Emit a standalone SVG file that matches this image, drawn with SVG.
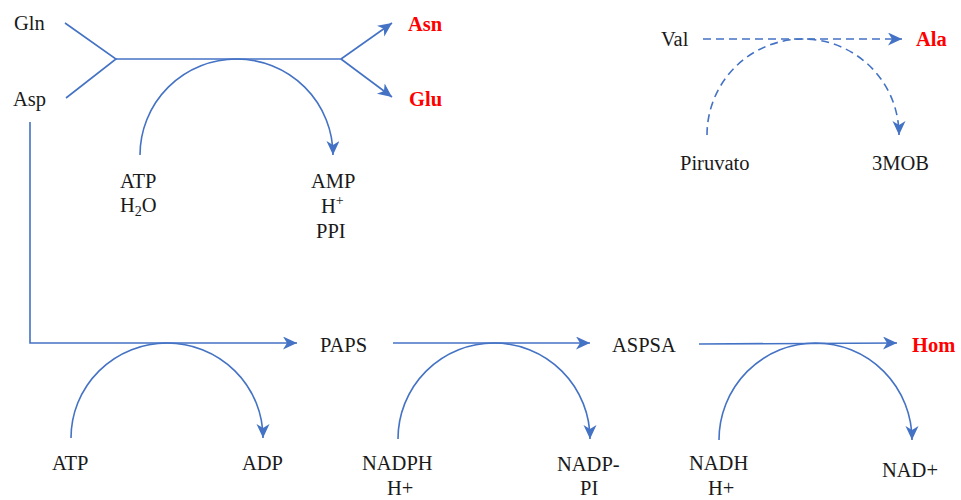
<svg xmlns="http://www.w3.org/2000/svg" width="961" height="500" viewBox="0 0 961 500">
<style>
.t{font-family:"Liberation Serif","Times New Roman",serif;font-size:20.5px;fill:#1a1a1a}
.r{font-family:"Liberation Serif","Times New Roman",serif;font-size:20.5px;font-weight:bold;fill:#ff0000}
.c{fill:none;stroke:#4472c4;stroke-width:1.6}
.d{stroke-dasharray:8 5}
</style>
<defs>
<marker id="ah" markerUnits="userSpaceOnUse" markerWidth="16" markerHeight="14" refX="14" refY="6.5" orient="auto" viewBox="0 0 16 14">
<path d="M0,0 L14,6.5 L0,13 L4,6.5 Z" fill="#4472c4"/>
</marker>
</defs>
<rect width="961" height="500" fill="#ffffff"/>
<g id="connectors">
<path class="c" d="M65,23 L116,59 L66,98"/>
<path class="c" d="M116,59 L341,59"/>
<path class="c" d="M341,59 L392,23" marker-end="url(#ah)"/>
<path class="c" d="M341,59 L392,97" marker-end="url(#ah)"/>
<path class="c" d="M140,155 A96.5,96 0 0 1 333,155" marker-end="url(#ah)"/>
<path class="c" d="M30,122 L30,343 L297,343" marker-end="url(#ah)"/>
<path class="c" d="M71,438 A96,95 0 0 1 263,438" marker-end="url(#ah)"/>
<path class="c" d="M393,343 L590,343" marker-end="url(#ah)"/>
<path class="c" d="M398,439 A96,96 0 0 1 590,439" marker-end="url(#ah)"/>
<path class="c" d="M699,344 L897,343" marker-end="url(#ah)"/>
<path class="c" d="M719,440 A96.5,97 0 0 1 912,440" marker-end="url(#ah)"/>
<path class="c d" d="M703,39 L902,39" marker-end="url(#ah)"/>
<path class="c d" d="M707,135 A96,96 0 0 1 899,135" marker-end="url(#ah)"/>
</g>
<g id="Gln"><text class="t" x="14" y="30">Gln</text></g>
<g id="Asp"><text class="t" x="13" y="106">Asp</text></g>
<g id="Asn"><text class="r" x="408" y="31">Asn</text></g>
<g id="Glu"><text class="r" x="409" y="106">Glu</text></g>
<g id="ATP-H2O"><text class="t" x="120" y="188">ATP</text><text class="t" x="120" y="212">H<tspan font-size="14" dy="4">2</tspan><tspan dy="-4">O</tspan></text></g>
<g id="AMP-H-PPI"><text class="t" x="311" y="188">AMP</text><text class="t" x="321" y="213">H<tspan font-size="14" dy="-8">+</tspan></text><text class="t" x="316" y="238">PPI</text></g>
<g id="Val"><text class="t" x="661" y="46">Val</text></g>
<g id="Ala"><text class="r" x="916" y="46">Ala</text></g>
<g id="Piruvato"><text class="t" x="680" y="170">Piruvato</text></g>
<g id="3MOB"><text class="t" x="872" y="170">3MOB</text></g>
<g id="PAPS"><text class="t" x="320" y="352">PAPS</text></g>
<g id="ASPSA"><text class="t" x="612" y="352">ASPSA</text></g>
<g id="Hom"><text class="r" x="912" y="352">Hom</text></g>
<g id="ATP2"><text class="t" x="52" y="470">ATP</text></g>
<g id="ADP"><text class="t" x="242" y="470">ADP</text></g>
<g id="NADPH-H"><text class="t" x="362" y="470">NADPH</text><text class="t" x="387" y="495">H+</text></g>
<g id="NADP-PI"><text class="t" x="557" y="471">NADP-</text><text class="t" x="580" y="495">PI</text></g>
<g id="NADH-H"><text class="t" x="689" y="470">NADH</text><text class="t" x="708" y="495">H+</text></g>
<g id="NADplus"><text class="t" x="882" y="477">NAD+</text></g>
</svg>
